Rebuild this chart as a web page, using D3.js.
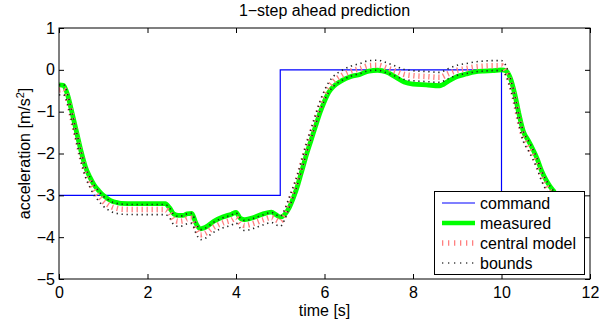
<!DOCTYPE html>
<html><head><meta charset="utf-8">
<script src="https://cdn.jsdelivr.net/npm/d3@7/dist/d3.min.js"></script>
<style>body{margin:0;background:#fff}svg{display:block}text{font-family:"Liberation Sans",Arial,sans-serif}</style>
</head><body>
<script>
const title = "1\u2212step ahead prediction";
const xLabel = "time [s]";
const xTicks = [0, 2, 4, 6, 8, 10, 12];
const yTicks = [-5, -4, -3, -2, -1, 0, 1];
const legendLabels = ["command", "measured", "central model", "bounds"];

const cmdTime = [0, 5, 5, 10, 10, 11.2];
const cmdValue = [-3, -3, 0, 0, -3, -3];

const time = [0,0.1,0.2,0.3,0.4,0.5,0.6,0.7,0.8,0.9,1.0,1.1,1.2,1.3,1.4,1.7,2.0,2.4,2.5,2.6,2.7,2.8,2.9,3.0,3.1,3.2,3.3,3.5,3.7,3.9,4.0,4.1,4.2,4.4,4.6,4.8,4.9,5.0,5.1,5.2,5.3,5.4,5.5,5.6,5.7,5.8,5.9,6.0,6.1,6.2,6.4,6.6,6.8,7.0,7.2,7.4,7.6,7.8,8.0,8.3,8.6,8.8,9.0,9.2,9.4,9.6,9.8,10.0,10.1,10.2,10.3,10.4,10.5,10.6,10.7,10.8,10.9,11.0,11.1,11.2];
const measured = [-0.36,-0.37,-0.62,-1.05,-1.50,-1.95,-2.33,-2.57,-2.76,-2.89,-3.00,-3.08,-3.14,-3.17,-3.19,-3.20,-3.20,-3.20,-3.30,-3.45,-3.48,-3.48,-3.44,-3.43,-3.68,-3.80,-3.77,-3.62,-3.52,-3.45,-3.41,-3.55,-3.58,-3.53,-3.45,-3.40,-3.46,-3.52,-3.46,-3.30,-3.05,-2.74,-2.37,-2.00,-1.67,-1.34,-1.02,-0.75,-0.53,-0.40,-0.25,-0.16,-0.11,-0.03,-0.01,-0.05,-0.17,-0.29,-0.34,-0.36,-0.38,-0.27,-0.16,-0.10,-0.05,-0.03,-0.02,0.00,-0.02,-0.20,-0.58,-1.08,-1.49,-1.68,-1.88,-2.11,-2.40,-2.62,-2.79,-2.92];
const centralModel = [-0.48,-0.47,-0.72,-1.17,-1.62,-2.07,-2.45,-2.69,-2.89,-3.02,-3.14,-3.22,-3.28,-3.31,-3.33,-3.34,-3.34,-3.34,-3.42,-3.59,-3.62,-3.61,-3.56,-3.55,-3.80,-3.94,-3.91,-3.76,-3.66,-3.59,-3.54,-3.67,-3.72,-3.67,-3.59,-3.53,-3.58,-3.62,-3.46,-3.18,-2.90,-2.59,-2.22,-1.85,-1.52,-1.19,-0.87,-0.61,-0.41,-0.28,-0.13,-0.03,0.03,0.10,0.11,0.05,-0.03,-0.11,-0.14,-0.16,-0.18,-0.09,-0.01,0.03,0.07,0.09,0.10,0.10,-0.02,-0.32,-0.72,-1.22,-1.61,-1.80,-2.00,-2.23,-2.52,-2.74,-2.91,-3.04];
const lowerBound = [-0.60,-0.59,-0.84,-1.29,-1.74,-2.19,-2.57,-2.81,-3.01,-3.14,-3.26,-3.34,-3.40,-3.43,-3.45,-3.46,-3.46,-3.46,-3.54,-3.71,-3.74,-3.73,-3.68,-3.67,-3.92,-4.06,-4.03,-3.88,-3.78,-3.71,-3.66,-3.79,-3.84,-3.79,-3.71,-3.65,-3.70,-3.74,-3.58,-3.30,-3.02,-2.71,-2.34,-1.97,-1.64,-1.31,-0.99,-0.73,-0.53,-0.40,-0.25,-0.15,-0.09,-0.02,-0.01,-0.07,-0.15,-0.23,-0.26,-0.28,-0.30,-0.21,-0.13,-0.09,-0.05,-0.03,-0.02,-0.02,-0.14,-0.44,-0.84,-1.34,-1.73,-1.92,-2.12,-2.35,-2.64,-2.86,-3.03,-3.16];
const upperBound = [-0.36,-0.35,-0.60,-1.05,-1.50,-1.95,-2.33,-2.57,-2.77,-2.90,-3.02,-3.10,-3.16,-3.19,-3.21,-3.22,-3.22,-3.22,-3.30,-3.47,-3.50,-3.49,-3.44,-3.43,-3.68,-3.82,-3.79,-3.64,-3.54,-3.47,-3.42,-3.55,-3.60,-3.55,-3.47,-3.41,-3.46,-3.50,-3.34,-3.06,-2.78,-2.47,-2.10,-1.73,-1.40,-1.07,-0.75,-0.49,-0.29,-0.16,-0.01,0.09,0.15,0.22,0.23,0.17,0.09,0.01,-0.02,-0.04,-0.06,0.03,0.11,0.15,0.19,0.21,0.22,0.22,0.10,-0.20,-0.60,-1.10,-1.49,-1.68,-1.88,-2.11,-2.40,-2.62,-2.79,-2.92];

const W = 599, H = 324;
const m = {left: 59, top: 28, right: 9, bottom: 45};
const pw = W - m.left - m.right, ph = H - m.top - m.bottom;
const FS = 16;

const svg = d3.select("body").append("svg").attr("width", W).attr("height", H);
svg.append("rect").attr("width", W).attr("height", H).attr("fill", "#fff");

const x = d3.scaleLinear().domain([0, 12]).range([m.left, m.left + pw]);
const y = d3.scaleLinear().domain([-5, 1]).range([m.top + ph, m.top]);

svg.append("defs").append("clipPath").attr("id", "clip")
  .append("rect").attr("x", m.left).attr("y", m.top).attr("width", pw).attr("height", ph);
const g = svg.append("g").attr("clip-path", "url(#clip)");

const line = d3.line().x(d => x(d[0])).y(d => y(d[1])).curve(d3.curveMonotoneX);
const lin = d3.line().x(d => x(d[0])).y(d => y(d[1]));

g.append("path").datum(cmdTime.map((t, i) => [t, cmdValue[i]]))
  .attr("d", lin).attr("fill", "none").attr("stroke", "#0000ff").attr("stroke-width", 1.2);
g.append("path").datum(time.map((t, i) => [t, measured[i]]))
  .attr("d", line).attr("fill", "none").attr("stroke", "#00ff00").attr("stroke-width", 4.8)
  .attr("stroke-linejoin", "round");
g.append("path").datum(time.map((t, i) => [t, centralModel[i]]))
  .attr("d", line).attr("fill", "none").attr("stroke", "#ff8080").attr("stroke-width", 5.5)
  .attr("stroke-dasharray", "1.3 3.7");
[lowerBound, upperBound].forEach(arr => {
  g.append("path").datum(time.map((t, i) => [t, arr[i]]))
    .attr("d", line).attr("fill", "none").attr("stroke", "#222").attr("stroke-width", 1.6)
    .attr("stroke-dasharray", "1.3 3.7");
});

// axes with inside ticks on all four sides
const TL = 5;
const axB = svg.append("g").attr("transform", `translate(0,${m.top + ph})`)
  .call(d3.axisBottom(x).tickValues(xTicks).tickSizeInner(-TL).tickSizeOuter(0).tickPadding(8).tickFormat(d3.format("d")));
const axT = svg.append("g").attr("transform", `translate(0,${m.top})`)
  .call(d3.axisTop(x).tickValues(xTicks).tickSizeInner(-TL).tickSizeOuter(0).tickFormat(""));
const axL = svg.append("g").attr("transform", `translate(${m.left},0)`)
  .call(d3.axisLeft(y).tickValues(yTicks).tickSizeInner(-TL).tickSizeOuter(0).tickPadding(4)
    .tickFormat(d => d < 0 ? "\u2212" + Math.abs(d) : String(d)));
const axR = svg.append("g").attr("transform", `translate(${m.left + pw},0)`)
  .call(d3.axisRight(y).tickValues(yTicks).tickSizeInner(-TL).tickSizeOuter(0).tickFormat(""));
[axB, axT, axL, axR].forEach(a => {
  a.select(".domain").remove();
  a.selectAll("line").attr("stroke", "#000");
  a.selectAll("text").attr("font-size", FS).attr("fill", "#000").attr("font-family", '"Liberation Sans",Arial,sans-serif');
});
svg.append("rect").attr("x", m.left).attr("y", m.top).attr("width", pw).attr("height", ph)
  .attr("fill", "none").attr("stroke", "#000").attr("stroke-width", 1);

svg.append("text").attr("x", m.left + pw / 2).attr("y", 16).attr("text-anchor", "middle")
  .attr("font-size", FS).text(title);
svg.append("text").attr("x", m.left + pw / 2).attr("y", 316).attr("text-anchor", "middle")
  .attr("font-size", FS).text(xLabel);
const yl = svg.append("text").attr("transform", `translate(30,${m.top + ph / 2}) rotate(-90)`)
  .attr("text-anchor", "middle").attr("font-size", FS);
yl.append("tspan").text("acceleration [m/s");
yl.append("tspan").attr("font-size", 11).attr("dy", -6).text("2");
yl.append("tspan").attr("dy", 6).text("]");

// legend
const lg = svg.append("g");
lg.append("rect").attr("x", 434.5).attr("y", 191.5).attr("width", 150).attr("height", 83)
  .attr("fill", "#fff").attr("stroke", "#000").attr("stroke-width", 1);
const styles = [
  {stroke: "#0000ff", w: 1.2, dash: null},
  {stroke: "#00ff00", w: 4.5, dash: null},
  {stroke: "#ff8080", w: 5.5, dash: "1.3 4.7"},
  {stroke: "#444", w: 1.6, dash: "1.3 4.7"}
];
legendLabels.forEach((lab, i) => {
  const yy = 203 + i * 20;
  const s = styles[i];
  const ln = lg.append("line").attr("x1", 442).attr("x2", 475).attr("y1", yy).attr("y2", yy)
    .attr("stroke", s.stroke).attr("stroke-width", s.w);
  if (s.dash) ln.attr("stroke-dasharray", s.dash);
  lg.append("text").attr("x", 480).attr("y", yy).attr("dy", "0.35em").attr("font-size", FS).text(lab);
});
</script>
</body></html>
